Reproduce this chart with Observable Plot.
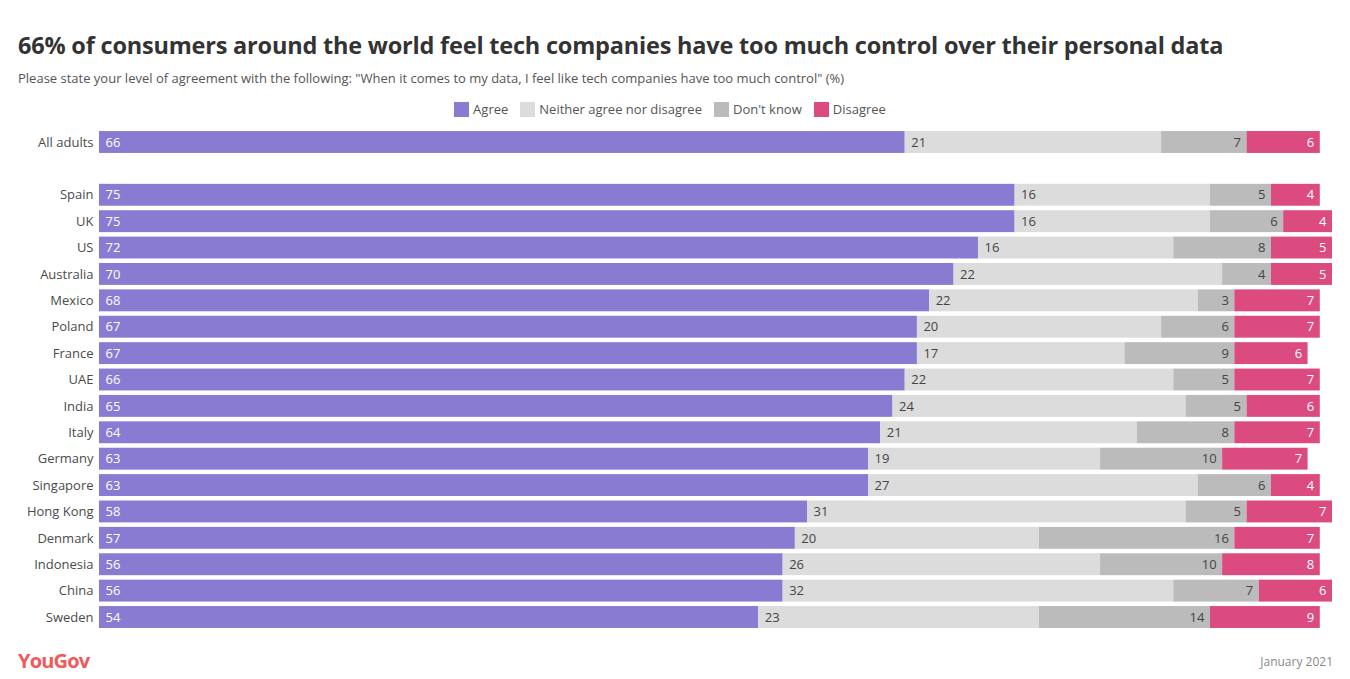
<!DOCTYPE html>
<html>
<head>
<meta charset="utf-8">
<script src="https://cdn.jsdelivr.net/npm/d3@7"></script>
<script src="https://cdn.jsdelivr.net/npm/@observablehq/plot@0.6"></script>
<style>
  html, body { margin: 0; padding: 0; background: #fff; }
  body { width: 1350px; height: 679px; position: relative; overflow: hidden; font-family: "Open Sans", "Lato", sans-serif; }
  #title { position: absolute; left: 18px; top: 29px; font-size: 23.5px; font-weight: 700; color: #333; white-space: nowrap; letter-spacing: -0.2px; }
  #subtitle { position: absolute; left: 18px; top: 69px; font-size: 13px; color: #555; white-space: nowrap; }
  #legend { position: absolute; left: 0; width: 1350px; top: 100px; display: flex; justify-content: center; gap: 12px; font-size: 13px; color: #555; padding-left: 0; margin-left: -5px; }
  #legend .item { display: flex; align-items: center; gap: 4px; }
  #legend .sw { width: 15px; height: 15px; display: inline-block; }
  #chart { position: absolute; left: 0; top: 120px; }
  #logo { position: absolute; left: 18px; top: 647px; font-size: 20px; font-weight: 700; color: #ef5a5a; letter-spacing: -0.8px; }
  #date { position: absolute; right: 17px; top: 653px; font-size: 12px; color: #888; }
</style>
</head>
<body>
<div id="title">66% of consumers around the world feel tech companies have too much control over their personal data</div>
<div id="subtitle">Please state your level of agreement with the following: "When it comes to my data, I feel like tech companies have too much control" (%)</div>
<div id="legend"></div>
<div id="chart"></div>
<div id="logo">YouGov</div>
<div id="date">January 2021</div>
<script>
const categories = ["All adults", " ", "Spain", "UK", "US", "Australia", "Mexico", "Poland", "France", "UAE", "India", "Italy", "Germany", "Singapore", "Hong Kong", "Denmark", "Indonesia", "China", "Sweden"];
const series = ["Agree", "Neither agree nor disagree", "Don't know", "Disagree"];
const colors = ["#8a7bd2", "#dcdcdc", "#bbbbbb", "#db4b80"];
const agree    = [66, null, 75, 75, 72, 70, 68, 67, 67, 66, 65, 64, 63, 63, 58, 57, 56, 56, 54];
const neither  = [21, null, 16, 16, 16, 22, 22, 20, 17, 22, 24, 21, 19, 27, 31, 20, 26, 32, 23];
const dontKnow = [7,  null, 5,  6,  8,  4,  3,  6,  9,  5,  5,  8,  10, 6,  5,  16, 10, 7,  14];
const disagree = [6,  null, 4,  4,  5,  5,  7,  7,  6,  7,  6,  7,  7,  4,  7,  7,  8,  6,  9];

const seriesValues = [agree, neither, dontKnow, disagree];
const data = [];
categories.forEach((c, i) => {
  seriesValues.forEach((vals, s) => {
    if (vals[i] != null) data.push({cat: c, series: series[s], value: vals[i], idx: s});
  });
});

// legend
const legend = document.getElementById("legend");
series.forEach((s, i) => {
  const it = document.createElement("div");
  it.className = "item";
  it.innerHTML = `<span class="sw" style="background:${colors[i]}"></span><span>${s}</span>`;
  legend.appendChild(it);
});

const step = 26.39;
const marginTop = 8.8;
const height = 522;

const fontFam = "'Open Sans', Lato, sans-serif";
const leftSeries = new Set(["Agree", "Neither agree nor disagree"]);

const chart = Plot.plot({
  width: 1350,
  height,
  marginLeft: 99,
  marginRight: 18,
  marginTop,
  marginBottom: height - marginTop - step * categories.length,
  style: {fontFamily: fontFam, fontSize: "13px", background: "transparent"},
  x: {domain: [0, 101], axis: null},
  y: {domain: categories, paddingInner: 0.17, paddingOuter: 0.085, round: false, label: null},
  color: {domain: series, range: colors},
  marks: [
    Plot.axisY({tickSize: 0, tickPadding: 6, fontSize: 13, color: "#4a4a4a", label: null, tickFormat: d => d.trim() ? d : ""}),
    Plot.barX(data, {x: "value", y: "cat", fill: "series", order: "idx"}),
    Plot.text(data, Plot.stackX1({
      x: "value", y: "cat", z: "series", order: "idx", text: d => leftSeries.has(d.series) ? String(d.value) : "",
      textAnchor: "start", dx: 6, fontSize: 13,
      fill: d => d.series === "Agree" ? "#fff" : "#444"
    })),
    Plot.text(data, Plot.stackX2({
      x: "value", y: "cat", z: "series", order: "idx", text: d => leftSeries.has(d.series) ? "" : String(d.value),
      textAnchor: "end", dx: -6, fontSize: 13,
      fill: d => d.series === "Disagree" ? "#fff" : "#444"
    }))
  ]
});
document.getElementById("chart").appendChild(chart);
</script>
</body>
</html>
